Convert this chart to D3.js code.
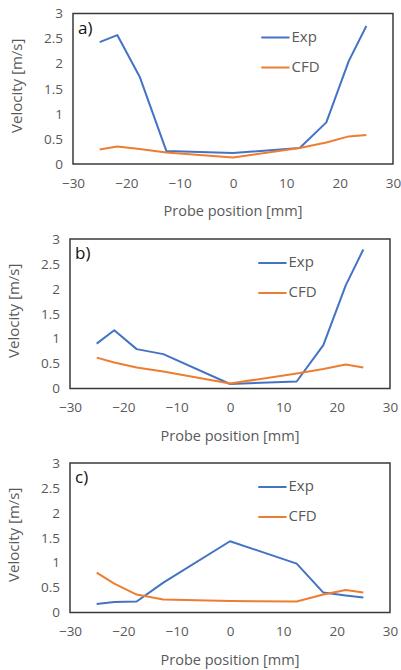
<!DOCTYPE html>
<html>
<head>
<meta charset="utf-8">
<script src="https://cdn.jsdelivr.net/npm/d3@7"></script>
<style>
  html, body { margin: 0; padding: 0; background: #fff; }
  svg { display: block; }
  text { font-family: "Open Sans", "Liberation Sans", sans-serif; }
</style>
</head>
<body>
<svg id="chart" width="401" height="670"></svg>
<script>
// ---- data ----
const positions = [-25, -21.7, -17.5, -12.5, 0, 12.5, 17.5, 21.7, 25];
const expA = [2.43, 2.57, 1.74, 0.26, 0.22, 0.32, 0.83, 2.05, 2.75];
const cfdA = [0.29, 0.35, 0.30, 0.23, 0.13, 0.32, 0.43, 0.55, 0.58];
const expB = [0.90, 1.17, 0.79, 0.69, 0.09, 0.14, 0.87, 2.07, 2.79];
const cfdB = [0.62, 0.52, 0.42, 0.34, 0.10, 0.30, 0.39, 0.48, 0.42];
const expC = [0.17, 0.21, 0.22, 0.60, 1.43, 0.98, 0.40, 0.34, 0.30];
const cfdC = [0.80, 0.58, 0.36, 0.26, 0.23, 0.22, 0.36, 0.45, 0.40];
const panelLabels = ["a)", "b)", "c)"];
const seriesNames = ["Exp", "CFD"];
const xTicks = [-30, -20, -10, 0, 10, 20, 30];
const yTicks = [0, 0.5, 1, 1.5, 2, 2.5, 3];
const xTitle = "Probe position [mm]";
const yTitle = "Velocity [m/s]";

const colors = ["#4472C4", "#ED7D31"];
const textColor = "#595959";

const panels = [
  { label: panelLabels[0], series: [expA, cfdA], left: 73, right: 393, top: 13.5, bottom: 164 },
  { label: panelLabels[1], series: [expB, cfdB], left: 70, right: 390, top: 239, bottom: 388.5 },
  { label: panelLabels[2], series: [expC, cfdC], left: 70, right: 390, top: 463, bottom: 612.5 }
];

const svg = d3.select("#chart");

panels.forEach(p => {
  const g = svg.append("g");
  const x = d3.scaleLinear().domain([-30, 30]).range([p.left, p.right]);
  const y = d3.scaleLinear().domain([0, 3]).range([p.bottom, p.top]);

  // y axis labels
  const yAxis = d3.axisLeft(y).tickValues(yTicks).tickSize(0).tickPadding(10)
    .tickFormat(d => d3.format("~g")(d));
  const ya = g.append("g").attr("transform", `translate(${p.left},0)`).call(yAxis);
  ya.select(".domain").remove();
  ya.selectAll("text").attr("fill", textColor).style("font-size", "13.5px")
    .style("font-family", '"Open Sans", sans-serif');

  // x axis labels
  const xAxis = d3.axisBottom(x).tickValues(xTicks).tickSize(0).tickPadding(14);
  const xa = g.append("g").attr("transform", `translate(0,${p.bottom})`).call(xAxis);
  xa.select(".domain").remove();
  xa.selectAll("text").attr("fill", textColor).style("font-size", "13.5px")
    .style("font-family", '"Open Sans", sans-serif');

  // axis titles
  g.append("text")
    .attr("x", x(0)).attr("y", p.bottom + 52)
    .attr("text-anchor", "middle").attr("fill", textColor)
    .style("font-size", "14.5px").text(xTitle);
  g.append("text")
    .attr("transform", `translate(${p.left - 55},${(p.top + p.bottom) / 2 - 3}) rotate(-90)`)
    .attr("text-anchor", "middle").attr("dominant-baseline", "middle").attr("fill", textColor)
    .style("font-size", "15px").text(yTitle);

  // lines
  const line = d3.line().x((d, i) => x(positions[i])).y(d => y(d));
  p.series.forEach((s, k) => {
    g.append("path").datum(s)
      .attr("d", line)
      .attr("fill", "none")
      .attr("stroke", colors[k])
      .attr("stroke-width", 2)
      .attr("stroke-linejoin", "round");
  });

  // plot border
  g.append("rect")
    .attr("x", p.left).attr("y", p.top)
    .attr("width", p.right - p.left).attr("height", p.bottom - p.top)
    .attr("fill", "none").attr("stroke", "#3a3a3a").attr("stroke-width", 1.5);

  // panel label
  g.append("text")
    .attr("x", p.left + 5).attr("y", p.top + 20)
    .attr("fill", "#111").style("font-size", "17px").text(p.label);

  // legend
  seriesNames.forEach((name, k) => {
    const ly = p.top + 24 + k * 30;
    g.append("line")
      .attr("x1", x(5.3)).attr("x2", x(10.6))
      .attr("y1", ly).attr("y2", ly)
      .attr("stroke", colors[k]).attr("stroke-width", 2);
    g.append("text")
      .attr("x", x(10.6) + 2).attr("y", ly)
      .attr("dominant-baseline", "middle")
      .attr("fill", textColor).style("font-size", "15px").text(name);
  });
});
</script>
</body>
</html>
